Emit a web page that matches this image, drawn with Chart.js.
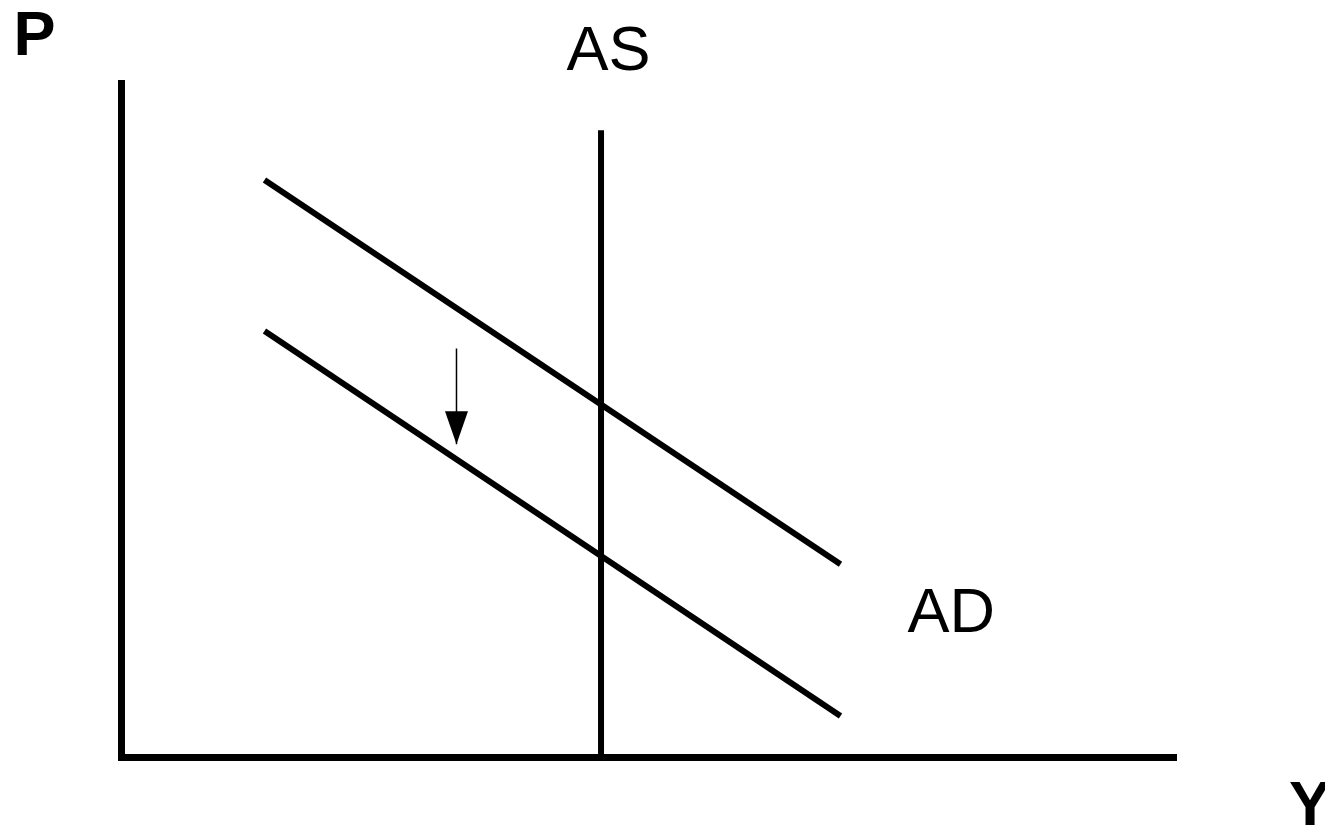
<!DOCTYPE html>
<html lang="en">
<head>
  <meta charset="UTF-8">
  <title>AS / AD</title>
  <script src="https://cdn.jsdelivr.net/npm/chart.js"></script>
  <style>
    html, body { margin: 0; padding: 0; background: #fff; }
    .wrap { width: 1325px; height: 826px; }
  </style>
</head>
<body>
  <div class="wrap"><canvas id="adas"></canvas></div>
  <script>
    // output (Y) on x, price level (P) on y, both 0..100
    const asCurve = [{ x: 45.5, y: 0 }, { x: 45.5, y: 93 }];
    const adBefore = [{ x: 13.6, y: 85.6 }, { x: 68.2, y: 28.6 }];
    const adAfter = [{ x: 13.6, y: 63.2 }, { x: 68.2, y: 6.1 }];
    const shiftArrow = [{ x: 31.8, y: 60.6 }, { x: 31.8, y: 46.4 }];

    const labelTexts = ['P', 'AS', 'AD', 'Y'];
    const labelX = [-8.2, 46.2, 78.7, 112.7];
    const labelY = [104.2, 101.9, 18.5, -10.1];
    const labelBold = [true, false, false, true];

    const overlay = {
      id: 'overlay',
      afterDatasetsDraw(chart) {
        const { ctx, scales: { x, y } } = chart;
        ctx.save();
        // arrow head at the end of the shift arrow
        const tip = shiftArrow[shiftArrow.length - 1];
        const tx = x.getPixelForValue(tip.x);
        const ty = y.getPixelForValue(tip.y);
        ctx.fillStyle = '#000';
        ctx.beginPath();
        ctx.moveTo(tx, ty);
        ctx.lineTo(tx - 11.5, ty - 33);
        ctx.lineTo(tx + 11.5, ty - 33);
        ctx.closePath();
        ctx.fill();

        ctx.textAlign = 'center';
        ctx.textBaseline = 'alphabetic';
        labelTexts.forEach((t, i) => {
          ctx.font = (labelBold[i] ? 'bold ' : '') + '63px "Liberation Sans", Arial, sans-serif';
          ctx.fillText(t, x.getPixelForValue(labelX[i]), y.getPixelForValue(labelY[i]));
        });
        ctx.restore();
      }
    };

    const lineSet = (data, width) => ({
      data,
      showLine: true,
      borderColor: '#000',
      borderWidth: width,
      pointRadius: 0,
      borderCapStyle: 'butt',
      fill: false
    });

    new Chart(document.getElementById('adas'), {
      type: 'scatter',
      data: {
        datasets: [
          lineSet(asCurve, 6),
          lineSet(adBefore, 6),
          lineSet(adAfter, 6),
          lineSet(shiftArrow, 1.5)
        ]
      },
      options: {
        responsive: true,
        maintainAspectRatio: false,
        animation: false,
        layout: { padding: { left: 113, right: 149, top: 83, bottom: 61 } },
        plugins: { legend: { display: false }, tooltip: { enabled: false } },
        scales: {
          x: {
            min: 0, max: 100,
            grid: { display: false },
            ticks: { display: false },
            border: { display: true, color: '#000', width: 7 }
          },
          y: {
            min: 0, max: 100,
            grid: { display: false },
            ticks: { display: false },
            border: { display: true, color: '#000', width: 7 }
          }
        }
      },
      plugins: [overlay]
    });
  </script>
</body>
</html>
